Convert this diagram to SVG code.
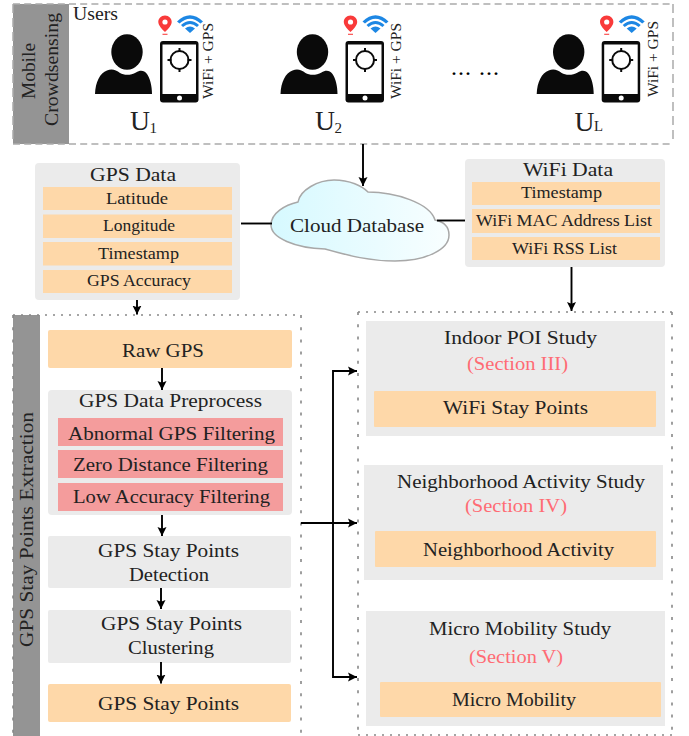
<svg xmlns="http://www.w3.org/2000/svg" width="689" height="736" viewBox="0 0 689 736">
<style>
text{font-family:"Liberation Serif","Times New Roman",serif;fill:#222;font-size:18px}
.s{font-size:17px}
.r{fill:#ff6b74;font-size:18px}
.w{font-size:15px}
.u{font-size:27px}
.or{fill:#fed8a9}
.gy{fill:#ebebeb}
.rd{fill:#f49c9c}
.band{fill:#949494}
.dh{stroke:#aaa;stroke-width:1.5;stroke-dasharray:7 4.2;fill:none}
.dv{stroke:#aaa;stroke-width:1.5;stroke-dasharray:9 5;fill:none}
.ph{stroke:#888;stroke-width:1.6;stroke-dasharray:2 6;fill:none}
.pv{stroke:#888;stroke-width:1.6;stroke-dasharray:3 9.2;fill:none}
.c{stroke:#000;stroke-width:1.9;fill:none}
</style>
<defs>
<marker id="a" markerUnits="userSpaceOnUse" markerWidth="11" markerHeight="11" refX="9" refY="5.500" orient="auto"><path d="M0 1L9 5.500L0 10L1.800 5.500Z" fill="#000"/></marker>
<linearGradient id="cl" x1="0" x2="1" y1="0" y2="0"><stop offset="0" stop-color="#d6f9ff"/><stop offset="1" stop-color="#f8feff"/></linearGradient>
<g id="user">
<ellipse cx="127" cy="52" rx="15.700" ry="17.800" fill="#0a0a0a"/>
<path d="M95 94C95.500 82 100 73 107 70.500C112 68.500 116 70 120 73C124 75.500 131 75.500 136 72.500C140 70 144 70 147 74C150 78 152 86 152 94Z" fill="#0a0a0a"/>
<rect x="160" y="41" width="38.500" height="61.500" rx="3" fill="#0a0a0a"/>
<rect x="162.500" y="44.500" width="33.500" height="49.500" fill="#fff"/>
<circle cx="179.500" cy="98" r="2.500" fill="#fff"/>
<circle cx="179.500" cy="60" r="9" fill="none" stroke="#0a0a0a" stroke-width="2"/>
<path d="M179.500 48V52M179.500 68V72M167.500 60H171.500M187.500 60H191.500" stroke="#0a0a0a" stroke-width="2" fill="none"/>
<path d="M165 15.500C161 15.500 158.300 18.500 158.300 22C158.300 25.500 162.500 29.500 165 32C167.500 29.500 171.700 25.500 171.700 22C171.700 18.500 169 15.500 165 15.500Z" fill="#f93a3a"/>
<circle cx="165" cy="22" r="2.600" fill="#fff"/>
<rect x="162.500" y="33.700" width="5" height="1.300" fill="#f9605f"/>
<path d="M177 21.500Q190 9 203 21.500L200.500 23.500Q190 14 179.500 23.500Z" fill="#1d87e4"/>
<path d="M181 25Q190 17 199 25L197 27Q190 21 183 27Z" fill="#1d87e4"/>
<path d="M185 28.500Q190 24.500 195 28.500L190 33Z" fill="#1d87e4"/>
</g>
</defs>

<g id="mobile-crowdsensing">
<rect class="band" x="13" y="4" width="56" height="140"/>
<path class="dh" d="M13 4H673M13 144H673"/>
<path class="dv" d="M673 4V144M13 4V144"/>
<text transform="translate(35 99) rotate(-90)" textLength="56" lengthAdjust="spacingAndGlyphs">Mobile</text>
<text transform="translate(58 126) rotate(-90)" textLength="113" lengthAdjust="spacingAndGlyphs">Crowdsensing</text>
<text x="73" y="20" textLength="45" lengthAdjust="spacingAndGlyphs">Users</text>
</g>
<g id="user-1">
<use href="#user"/>
<text class="w" transform="translate(213 99) rotate(-90)" textLength="76" lengthAdjust="spacingAndGlyphs">WiFi + GPS</text>
<text class="u" x="130" y="130" textLength="20" lengthAdjust="spacingAndGlyphs">U</text>
<text class="w" x="149.500" y="133">1</text>
</g>
<g id="user-2">
<use href="#user" x="185.500"/>
<text class="w" transform="translate(401 99) rotate(-90)" textLength="76" lengthAdjust="spacingAndGlyphs">WiFi + GPS</text>
<text class="u" x="315" y="130" textLength="20" lengthAdjust="spacingAndGlyphs">U</text>
<text class="w" x="334.500" y="133">2</text>
</g>
<text id="ellipsis" x="451" y="75" style="font-size:24px;fill:#000" textLength="48" lengthAdjust="spacing">... ...</text>
<g id="user-l">
<use href="#user" x="441.700"/>
<text class="w" transform="translate(658 97) rotate(-90)" textLength="76" lengthAdjust="spacingAndGlyphs">WiFi + GPS</text>
<text class="u" x="574.500" y="131" textLength="20" lengthAdjust="spacingAndGlyphs">U</text>
<text class="w" x="594" y="131" textLength="9" lengthAdjust="spacingAndGlyphs">L</text>
</g>

<g id="gps-data">
<rect class="gy" x="35" y="163" width="205" height="137" rx="4"/>
<text x="90" y="181" textLength="86" lengthAdjust="spacingAndGlyphs">GPS Data</text>
<rect class="or" x="43" y="187" width="189" height="23"/>
<rect class="or" x="43" y="214.500" width="189" height="23.500"/>
<rect class="or" x="43" y="242" width="189" height="23.500"/>
<rect class="or" x="43" y="270" width="189" height="23"/>
<text class="s" x="106" y="204" textLength="62" lengthAdjust="spacingAndGlyphs">Latitude</text>
<text class="s" x="103" y="231" textLength="72" lengthAdjust="spacingAndGlyphs">Longitude</text>
<text class="s" x="98" y="259" textLength="81" lengthAdjust="spacingAndGlyphs">Timestamp</text>
<text class="s" x="87" y="286" textLength="104" lengthAdjust="spacingAndGlyphs">GPS Accuracy</text>
</g>

<g id="cloud">
<path d="M298 202C300 190 318 180 334 180C350 180 362 186 368 192C395 192 430 203 435 220C445 222 449 228 449 235C449 250 425 261 395 261C370 261 350 256 325 249C295 248 271 238 271 225C271 213 285 205 298 202Z" fill="url(#cl)" stroke="#a8a8a8" stroke-width="1.500"/>
<text x="290" y="232" textLength="134" lengthAdjust="spacingAndGlyphs">Cloud Database</text>
</g>

<g id="wifi-data">
<rect class="gy" x="465" y="159" width="200" height="108" rx="4"/>
<text x="523" y="176" textLength="90" lengthAdjust="spacingAndGlyphs">WiFi Data</text>
<rect class="or" x="472" y="182" width="188" height="23"/>
<rect class="or" x="472" y="209" width="188" height="24"/>
<rect class="or" x="472" y="237" width="188" height="23"/>
<text class="s" x="521" y="198" textLength="81" lengthAdjust="spacingAndGlyphs">Timestamp</text>
<text class="s" x="476" y="226" textLength="176" lengthAdjust="spacingAndGlyphs">WiFi MAC Address List</text>
<text class="s" x="512" y="254" textLength="105" lengthAdjust="spacingAndGlyphs">WiFi RSS List</text>
</g>

<g id="gps-stay-points-extraction">
<rect class="band" x="13" y="315" width="27" height="421"/>
<path class="ph" d="M13 315H301"/>
<path class="pv" d="M301 315V736M13 315V736"/>
<text transform="translate(33 647) rotate(-90)" textLength="235" lengthAdjust="spacingAndGlyphs">GPS Stay Points Extraction</text>
</g>
<g id="raw-gps">
<rect class="or" x="48" y="330" width="244" height="38" rx="2"/>
<text x="122" y="357" textLength="82" lengthAdjust="spacingAndGlyphs">Raw GPS</text>
</g>
<g id="gps-preprocess">
<rect class="gy" x="48" y="390" width="244" height="125" rx="4"/>
<text x="79" y="407" textLength="183" lengthAdjust="spacingAndGlyphs">GPS Data Preprocess</text>
<rect class="rd" x="58" y="418" width="225" height="28"/>
<rect class="rd" x="58" y="450" width="225" height="28"/>
<rect class="rd" x="58" y="483" width="225" height="28"/>
<text x="68" y="440" textLength="207" lengthAdjust="spacingAndGlyphs">Abnormal GPS Filtering</text>
<text x="73" y="471" textLength="195" lengthAdjust="spacingAndGlyphs">Zero Distance Filtering</text>
<text x="73" y="503" textLength="197" lengthAdjust="spacingAndGlyphs">Low Accuracy Filtering</text>
</g>
<g id="detection">
<rect class="gy" x="48" y="536" width="243" height="52" rx="2"/>
<text x="98" y="557" textLength="141" lengthAdjust="spacingAndGlyphs">GPS Stay Points</text>
<text x="129" y="581" textLength="80" lengthAdjust="spacingAndGlyphs">Detection</text>
</g>
<g id="clustering">
<rect class="gy" x="48" y="610" width="243" height="53" rx="2"/>
<text x="101" y="630" textLength="141" lengthAdjust="spacingAndGlyphs">GPS Stay Points</text>
<text x="128" y="654" textLength="86" lengthAdjust="spacingAndGlyphs">Clustering</text>
</g>
<g id="gps-stay-points">
<rect class="or" x="48" y="684" width="243" height="38" rx="2"/>
<text x="98" y="710" textLength="141" lengthAdjust="spacingAndGlyphs">GPS Stay Points</text>
</g>

<g id="studies-frame">
<path class="ph" d="M358 312H672M358 735H672"/>
<path class="pv" d="M358 312V736M672 312V736"/>
</g>
<g id="indoor-poi">
<rect class="gy" x="366" y="321" width="299" height="115"/>
<text x="444" y="344" textLength="153" lengthAdjust="spacingAndGlyphs">Indoor POI Study</text>
<text class="r" x="467" y="370" textLength="101" lengthAdjust="spacingAndGlyphs">(Section III)</text>
<rect class="or" x="374" y="391" width="282" height="36" rx="1"/>
<text x="443" y="414" textLength="145" lengthAdjust="spacingAndGlyphs">WiFi Stay Points</text>
</g>
<g id="neighborhood">
<rect class="gy" x="364" y="465" width="299" height="115"/>
<text x="397" y="488" textLength="248" lengthAdjust="spacingAndGlyphs">Neighborhood Activity Study</text>
<text class="r" x="465" y="512" textLength="102" lengthAdjust="spacingAndGlyphs">(Section IV)</text>
<rect class="or" x="375" y="531" width="281" height="36" rx="1"/>
<text x="423" y="556" textLength="191" lengthAdjust="spacingAndGlyphs">Neighborhood Activity</text>
</g>
<g id="micro-mobility">
<rect class="gy" x="366" y="611" width="299" height="115"/>
<text x="429" y="635" textLength="182" lengthAdjust="spacingAndGlyphs">Micro Mobility Study</text>
<text class="r" x="469" y="663" textLength="94" lengthAdjust="spacingAndGlyphs">(Section V)</text>
<rect class="or" x="380" y="682" width="281" height="35" rx="1"/>
<text x="452" y="706" textLength="124" lengthAdjust="spacingAndGlyphs">Micro Mobility</text>
</g>

<g id="connectors" class="c">
<path d="M363 144V186" marker-end="url(#a)"/>
<path d="M241 223.500H272"/>
<path d="M437 220.500H465"/>
<path d="M137 300V314.500" marker-end="url(#a)"/>
<path d="M571.500 267V311" marker-end="url(#a)"/>
<path d="M162 368V390" marker-end="url(#a)"/>
<path d="M162 515V536" marker-end="url(#a)"/>
<path d="M161 588V609" marker-end="url(#a)"/>
<path d="M161 662V683.500" marker-end="url(#a)"/>
<path d="M301 523H357" marker-end="url(#a)"/>
<path d="M357 371H333V677H357" marker-end="url(#a)"/>
<path d="M333 371H357" marker-end="url(#a)"/>
</g>
</svg>
